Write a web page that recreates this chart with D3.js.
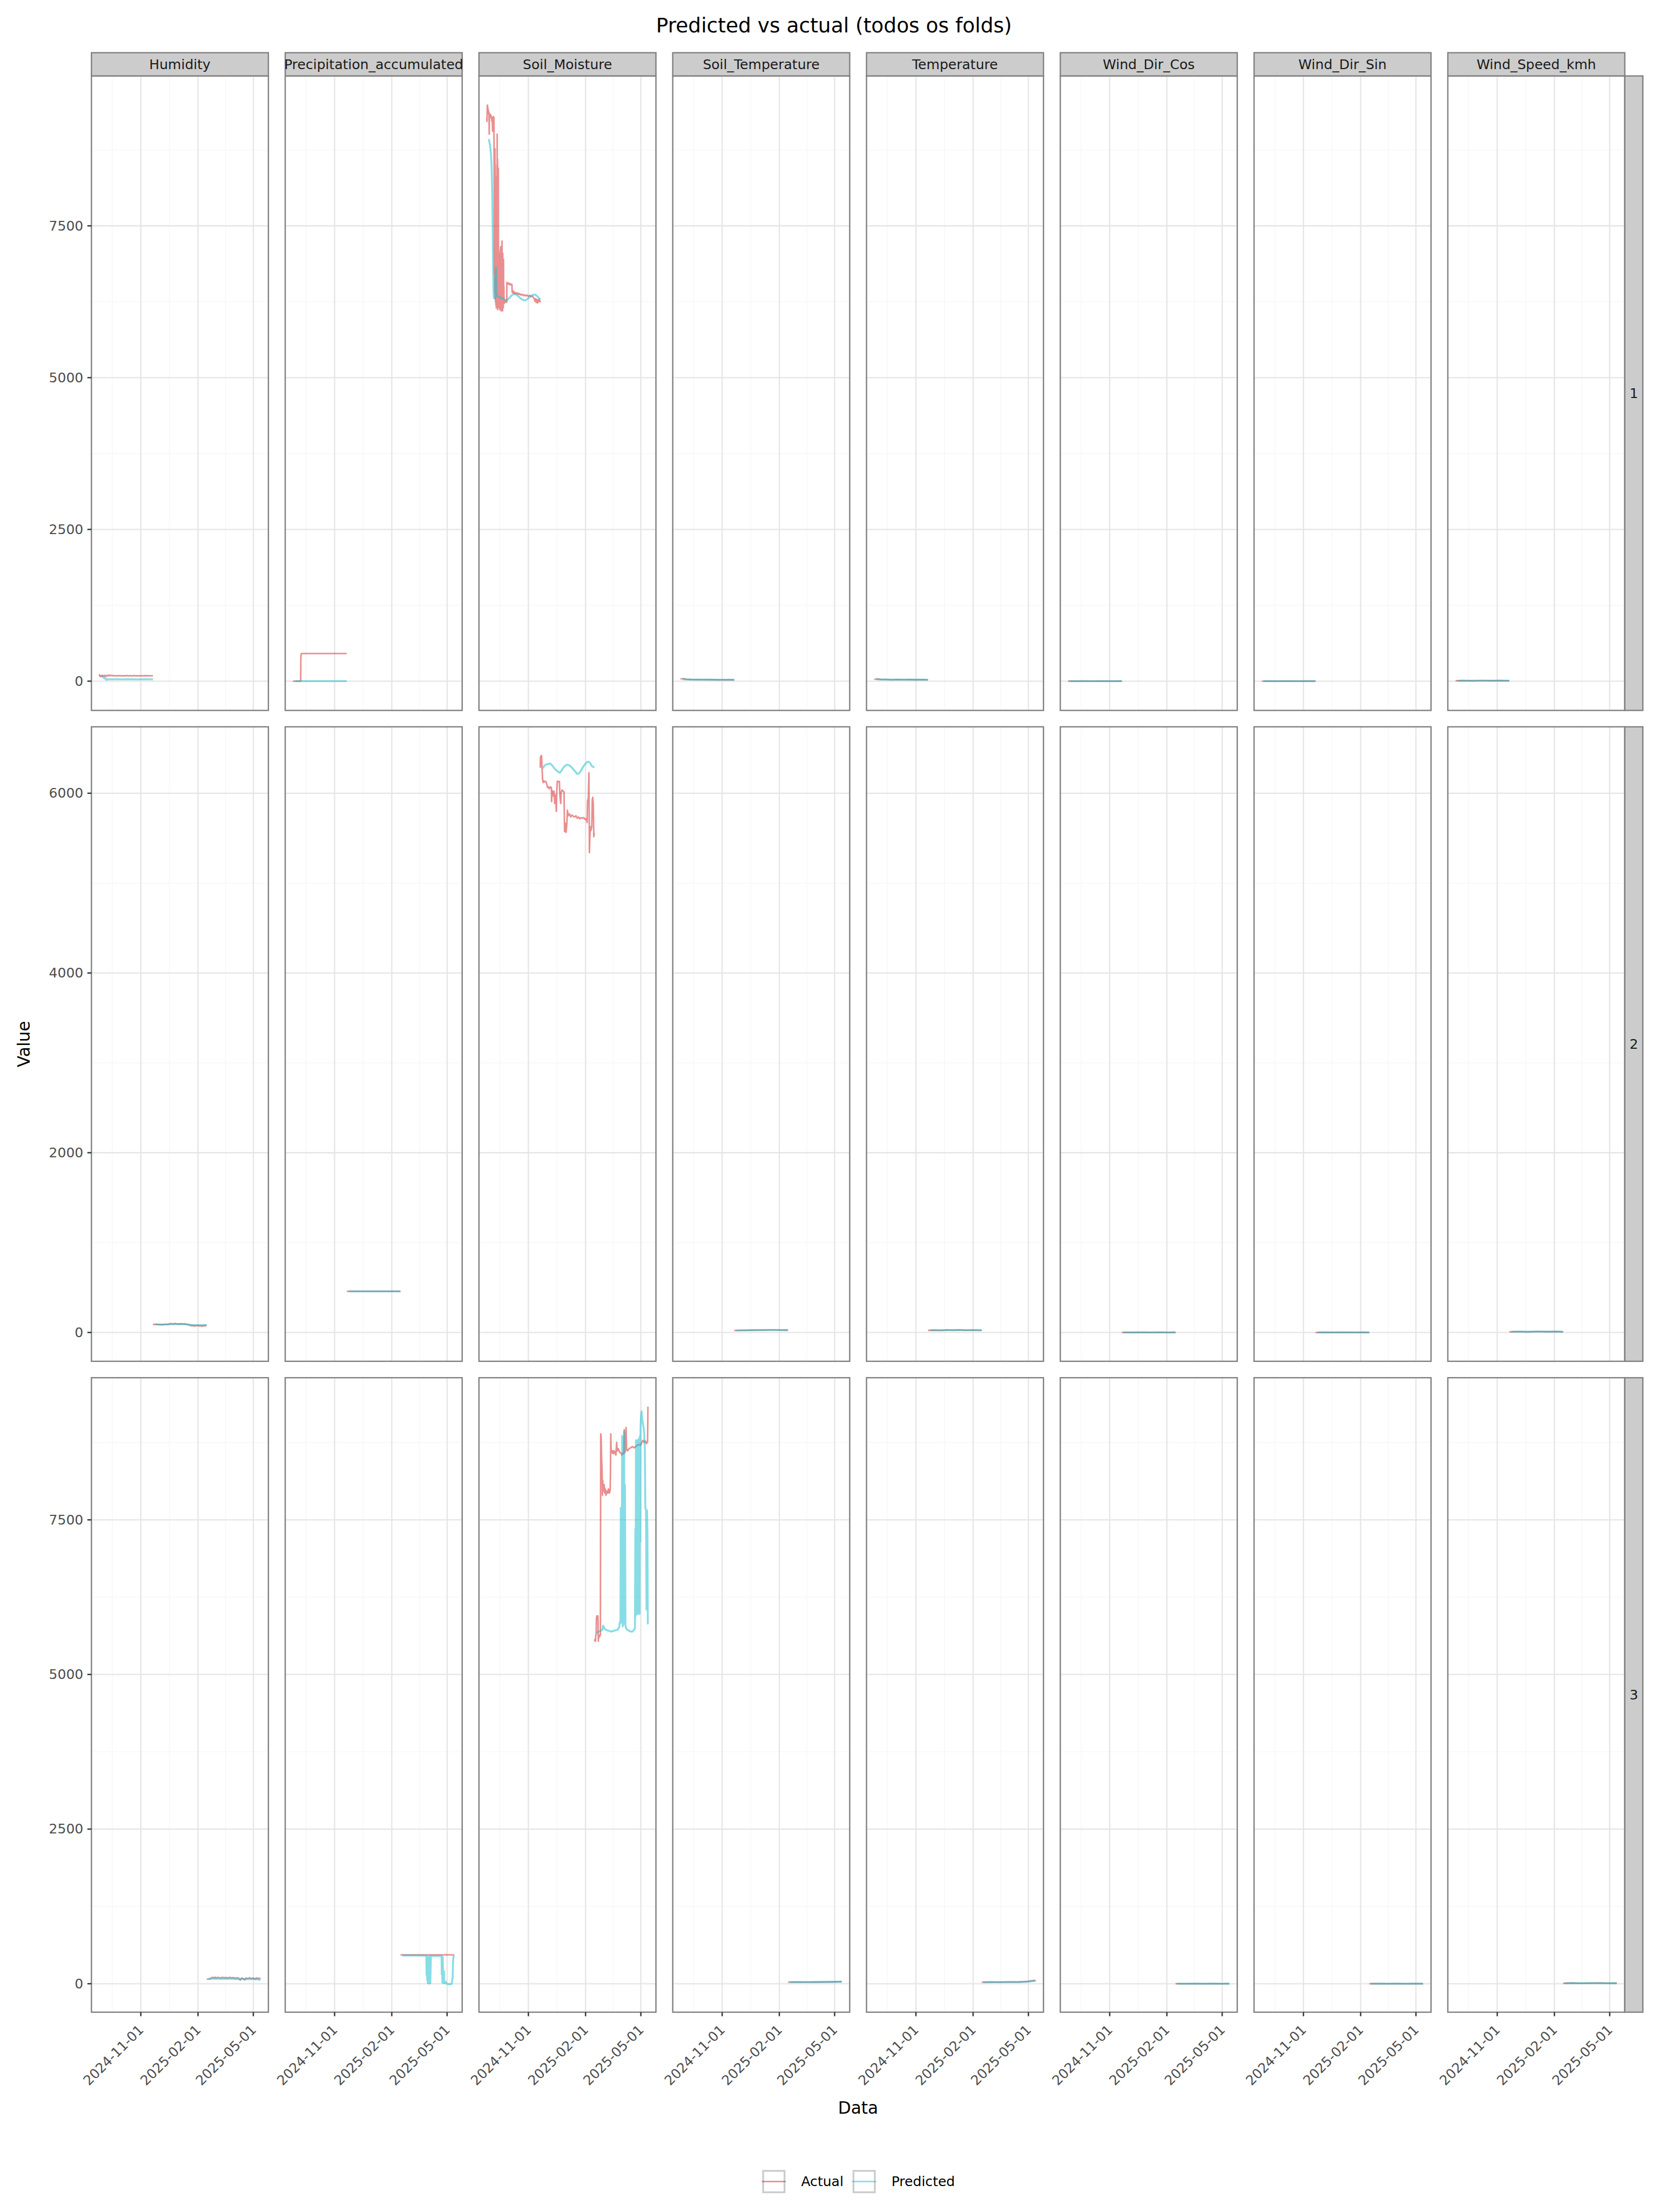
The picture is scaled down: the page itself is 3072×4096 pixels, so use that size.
<!DOCTYPE html>
<html><head><meta charset="utf-8">
<script src="https://cdn.jsdelivr.net/npm/d3@7"></script>
<style>html,body{margin:0;padding:0;background:#fff}svg{display:block}</style>
</head><body>
<script>
// ---------------- DATA ----------------
const variables = ["Humidity","Precipitation_accumulated","Soil_Moisture","Soil_Temperature","Temperature","Wind_Dir_Cos","Wind_Dir_Sin","Wind_Speed_kmh"];
const folds = ["1","2","3"];
const seriesNames = ["Actual","Predicted"];
const seriesColors = ["#d62728","#17becf"];
const xTickValues = ["2024-11-01","2025-02-01","2025-05-01"];
const xMajorAll = ["2024-08-01","2024-11-01","2025-02-01","2025-05-01","2025-08-01"];
const xDomain = ["2024-08-13T12:00:00Z","2025-05-25T06:00:00Z"];
const yDomains = [[-482,9970],[-321,6739],[-460,9798]];
const yTickValues = [[0,2500,5000,7500],[0,2000,4000,6000],[0,2500,5000,7500]];
const dayZero = "2024-08-13T00:00:00Z"; // time values below are days after this date

// Humidity
const hum_f1_act = [[13,97],[13.5,104],[14,85],[14.5,78],[15,92],[15.5,74],[16,88],[17,80],[18,95],[19,84],[20,91],[21,82],[22,96],[23,86],[24,92],[25,83],[26,94],[27,88],[28,97],[29,90],[30,99],[31,92],[32,96],[34,90],[36,93],[38,87],[40,91],[42,86],[44,92],[46,88],[48,91],[50,86],[52,90],[55,87],[58,92],[60,86],[63,90],[66,88],[69,93],[72,87],[75,90],[78,86],[81,91],[84,88],[87,92],[90,87],[93,90],[96,88],[99.5,89]];
const hum_f1_pred = [[16.5,97],[17.5,90],[18.5,78],[19.5,66],[20.5,52],[21.5,45],[22.5,60],[23.5,38],[24.5,22],[26,31],[30,30],[40,31],[50,30],[60,31],[70,30],[80,30],[90,31],[99.5,30]];
const hum_f2_act = [[99.5,92],[102,88],[105,91],[108,87],[111,90],[114,86],[117,89],[120,91],[123,88],[126,95],[129,99],[132,93],[135,101],[138,96],[141,92],[144,98],[147,94],[150,97],[153,92],[156,90],[158,80],[160,84],[162,72],[164,78],[166,70],[168,79],[170,73],[172,80],[174,71],[176,76],[178,68],[180,77],[182,72],[184,79],[186,74]];
const hum_f2_pred = [[103,90],[110,88],[120,89],[130,92],[140,93],[150,90],[156,87],[160,84],[170,82],[180,81],[186,82]];
const hum_f3_act = [[186,76],[188,74],[190,76],[192,80],[194,96],[196,104],[198,92],[200,106],[202,95],[205,103],[208,90],[211,105],[214,96],[217,102],[220,91],[223,104],[226,94],[229,100],[232,88],[235,97],[238,86],[240,60],[242,92],[245,84],[247,62],[249,90],[252,82],[255,96],[258,80],[261,92],[264,78],[266,95],[268,80],[270,90],[272.5,84]];
const hum_f3_pred = [[189,82],[192,84],[196,86],[200,80],[205,84],[210,78],[215,82],[220,80],[225,84],[230,78],[235,76],[238,74],[240,66],[243,78],[246,72],[250,76],[255,74],[260,78],[264,70],[268,74],[271,62],[272.5,70]];

// Precipitation_accumulated
const pre_f1_act = [[13,0],[20,0],[25.4,0],[25.7,380],[26,440],[26.6,455],[40,455],[60,455],[80,455],[99.5,455]];
const pre_f1_pred = [[17,0],[40,0],[60,0],[80,0],[99.5,0]];
const pre_f2_act = [[99.5,458],[120,458],[150,458],[186,458]];
const pre_f2_pred = [[103,457],[130,457],[160,457],[186,457]];
const pre_f3_act = [[186,467],[210,467],[240,467],[272.5,467]];
const pre_f3_pred = [[189,458],[200,457],[215,456],[227.6,455],[228,140],[228.5,450],[229,60],[229.5,200],[230,10],[231,440],[231.5,5],[232.5,8],[233,450],[234,5],[235,455],[236,452],[245,450],[252,450],[252.5,150],[253,440],[253.5,15],[254,430],[254.5,120],[255,10],[256,200],[256.5,12],[258,10],[259,30],[260,5],[262,-5],[265,-8],[268,-5],[269,30],[269.5,80],[270,90],[270.5,350],[271,420],[272.2,458]];

// Soil_Moisture
const sm_f1_act = [[13,9280],[13.4,9220],[13.8,9470],[14.2,9490],[14.6,9410],[15,9440],[15.4,9380],[15.8,9400],[16.2,9340],[16.6,9370],[17,9010],[17.4,9350],[17.8,9320],[18.2,9340],[18.8,9300],[19.4,9330],[20,9280],[20.6,9300],[21.2,9230],[21.8,9290],[22.4,9060],[22.8,9290],[23.4,9250],[24,9300],[24.6,9270],[25,7900],[25.3,6700],[25.6,8700],[25.9,6400],[26.2,8770],[26.5,6300],[26.8,8500],[27.1,6250],[27.4,8300],[27.7,6200],[28,7400],[28.3,6150],[28.6,8000],[28.9,6300],[29.2,7800],[29.5,6200],[29.8,9010],[30.1,6150],[30.4,8600],[30.7,6120],[31,7300],[31.3,6250],[31.6,8450],[31.9,6200],[32.2,7100],[32.5,6300],[32.8,7000],[33.1,6150],[33.4,6900],[33.7,6200],[34,7050],[34.3,6120],[34.6,6800],[34.9,6300],[35.2,7150],[35.5,6200],[35.8,7000],[36.1,6100],[36.4,7160],[36.7,6250],[37,6900],[37.3,6130],[37.6,7250],[37.9,6200],[38.2,6700],[38.5,6100],[38.8,7050],[39.1,6250],[39.4,6600],[39.7,6150],[40,6950],[40.3,6280],[40.6,6500],[41,6220],[41.5,6260],[42.5,6240],[43.5,6270],[44.5,6250],[45.2,6240],[45.4,6570],[46,6550],[47,6560],[48,6540],[49,6555],[50,6530],[51,6545],[52,6530],[53,6540],[53.6,6530],[53.8,6420],[54.5,6400],[55.5,6430],[56.5,6390],[57.5,6410],[58.5,6380],[60,6400],[61.5,6375],[63,6395],[64.5,6370],[66,6385],[68,6360],[70,6375],[72,6350],[74,6365],[76,6345],[78,6360],[80,6340],[82,6355],[84,6335],[86,6345],[88,6320],[89.5,6300],[90.5,6260],[91.5,6300],[92.5,6240],[93.5,6290],[94.5,6230],[95.5,6280],[96.5,6250],[97.5,6290],[98.5,6250],[99.5,6270]];
const sm_f1_pred = [[16.3,8930],[16.8,8900],[17.5,8870],[18.3,8820],[19,8760],[19.8,8680],[20.5,8560],[21,8400],[21.5,8200],[22,7900],[22.5,7500],[23,7100],[23.4,6800],[23.8,6500],[24.2,6350],[24.6,6310],[25,6650],[25.3,6330],[25.7,6560],[26,6320],[26.4,6400],[26.8,6300],[27.2,6450],[27.6,6700],[28,6810],[28.4,6600],[28.8,6400],[29.2,6360],[30,6340],[33,6330],[36,6315],[39,6300],[42,6285],[44,6275],[47,6290],[50,6320],[53,6355],[56,6375],[58,6378],[61,6365],[64,6340],[67,6310],[70,6288],[73,6275],[75,6273],[78,6290],[81,6320],[84,6345],[87,6362],[90,6368],[92,6360],[94,6345],[96,6320],[98,6300],[99.5,6290]];
const sm_f2_act = [[99.1,6283],[99.5,6406],[101.2,6420],[102,6283],[102.8,6160],[103.7,6119],[104.5,6139],[106.2,6126],[107.8,6133],[109.5,6105],[110.8,6064],[112,6071],[113.7,6050],[115.3,6071],[117,6064],[117.4,5907],[118.3,6030],[119.5,6010],[120.3,5968],[121.2,6023],[122.4,5886],[123.7,5982],[124.9,5798],[125.8,6037],[126.6,6133],[128.7,6126],[129.9,6133],[130.7,5982],[132,5886],[132.8,6010],[134.1,6037],[135.7,6023],[137.4,6016],[138.2,5572],[139.5,5668],[140.7,5565],[142,5668],[142.8,5811],[144,5750],[146.1,5770],[148.2,5736],[150.3,5757],[152.4,5743],[154.5,5736],[156.5,5750],[158.6,5722],[160.7,5736],[162.8,5716],[164.9,5729],[167,5722],[169,5729],[171.1,5709],[173.2,5716],[174.5,5674],[175.3,5921],[176.5,5941],[177.4,6228],[178.2,5339],[179,5517],[179.9,5627],[180.7,5586],[182,5627],[182.8,5927],[183.6,5955],[184.4,5886],[185.3,5517],[186.1,5558]];
const sm_f2_pred = [[103.7,6276],[104.5,6290],[105.5,6305],[106.6,6312],[108,6318],[110,6320],[112,6327],[114,6331],[115.5,6328],[117,6320],[119,6303],[121,6285],[123,6269],[125,6255],[127.4,6242],[129,6233],[130.7,6228],[132,6240],[133.7,6256],[135.5,6278],[137.8,6297],[140,6310],[142,6317],[144,6315],[146,6310],[148,6297],[150.3,6283],[152.5,6265],[154.5,6249],[156.5,6232],[158.6,6215],[160.5,6218],[162,6225],[163.5,6240],[165,6256],[167,6280],[169,6303],[171,6320],[173.2,6338],[175,6347],[176.1,6351],[178,6345],[179.5,6338],[181,6315],[182.5,6300],[184,6297],[185.7,6283]];
const sm_f3_act = [[186.4,5537],[187.2,5571],[188,5537],[188.5,5640],[189,5640],[189.5,5913],[190.3,5947],[191.1,5913],[191.9,5947],[192.5,5537],[193.3,5640],[194.3,5605],[195.4,5640],[195.9,5640],[196.4,8890],[197,8856],[197.8,8514],[198.6,8308],[199.1,7898],[199.6,8137],[200.4,8034],[201.2,7966],[202,8069],[202.8,7932],[203.8,8000],[204.9,7898],[206.2,7966],[207.6,7932],[208.9,8000],[210.2,7932],[211.5,7966],[212.1,8240],[212.6,8890],[213.1,8650],[214.2,8582],[215.5,8616],[216.8,8568],[218.1,8616],[219.5,8582],[220.8,8548],[222.1,8753],[222.9,8616],[224.8,8650],[226.6,8596],[228.7,8582],[230.6,8548],[232.2,8582],[233.5,8568],[234.3,8958],[235.1,8582],[236.2,8616],[237.2,8993],[238,8650],[239.3,8616],[242,8650],[244.6,8664],[247.3,8685],[249.9,8664],[252.6,8685],[255.2,8705],[257.9,8719],[260.5,8705],[262.6,8753],[264.5,8787],[266.3,8753],[268.5,8774],[270.1,8733],[271.1,8753],[271.8,8760],[272.4,9330]];
const sm_f3_pred = [[189.5,5674],[193,5694],[197,5708],[199.1,5721],[200.1,5790],[201.2,5776],[202.3,5742],[204.9,5721],[208.9,5708],[212.9,5694],[218.1,5708],[223.4,5721],[226.1,5763],[227.2,5845],[228.2,5831],[228.7,7692],[229.3,5913],[230.1,5845],[230.9,8856],[231.4,5913],[231.9,5776],[232.4,7624],[233,5810],[234,8924],[234.6,5845],[235.4,8069],[236.2,5790],[237.5,5742],[239.3,5721],[242,5708],[244.6,5694],[247.3,5694],[249.9,5721],[251.5,5742],[252.1,7350],[252.6,5947],[253.1,8787],[253.6,5968],[254.2,8753],[254.7,5982],[255.2,8787],[255.7,5982],[256.3,8753],[256.8,5982],[257.3,8801],[257.9,5995],[258.4,8821],[258.9,5982],[259.5,8856],[260,7145],[260.5,8993],[261.3,9198],[262.1,9253],[263.2,9129],[264.2,9061],[265.3,8993],[266.3,8924],[267.4,8650],[268.2,7692],[269.3,7658],[270.1,6050],[270.9,7658],[271.6,7282],[272.2,5810]];

// Soil_Temperature
const st_f1_act = [[13,35],[18,42],[23,30],[30,27],[40,25],[50,24],[60,26],[70,23],[80,22],[90,24],[99.5,21]];
const st_f1_pred = [[16.5,33],[22,29],[30,26],[45,25],[60,24],[75,23],[90,23],[99.5,22]];
const st_f2_act = [[99.5,22],[115,24],[130,26],[145,27],[160,28],[175,27],[186,26]];
const st_f2_pred = [[103,23],[120,25],[140,26],[160,27],[186,26]];
const st_f3_act = [[186,26],[200,27],[215,26],[230,27],[245,29],[260,31],[272.5,34]];
const st_f3_pred = [[189,26],[205,26],[220,27],[240,28],[260,30],[272.5,32]];

// Temperature
const te_f1_act = [[13,30],[18,38],[24,26],[32,28],[40,22],[50,27],[60,24],[70,29],[80,23],[90,26],[99.5,22]];
const te_f1_pred = [[16.5,29],[25,27],[40,25],[55,25],[70,24],[85,24],[99.5,23]];
const te_f2_act = [[99.5,23],[110,26],[120,22],[130,28],[140,25],[150,29],[160,24],[170,27],[186,25]];
const te_f2_pred = [[103,24],[120,25],[140,26],[160,26],[186,25]];
const te_f3_act = [[186,25],[200,28],[215,24],[230,30],[245,27],[260,38],[272.5,55]];
const te_f3_pred = [[189,25],[205,26],[225,27],[245,29],[260,34],[272.5,48]];

// Wind_Dir_Cos
const wc_f1_act = [[13,0.5],[25,-0.6],[40,0.8],[55,-0.3],[70,0.6],[85,-0.7],[99.5,0.2]];
const wc_f1_pred = [[16.5,0.1],[40,0.2],[70,0.1],[99.5,0.0]];
const wc_f2_act = [[99.5,0.3],[115,-0.5],[130,0.7],[145,-0.4],[160,0.6],[175,-0.2],[186,0.4]];
const wc_f2_pred = [[103,0.1],[130,0.2],[160,0.1],[186,0.1]];
const wc_f3_act = [[186,0.4],[200,-0.6],[215,0.5],[230,-0.3],[245,0.7],[260,-0.5],[272.5,0.2]];
const wc_f3_pred = [[189,0.1],[215,0.0],[245,0.1],[272.5,0.0]];

// Wind_Dir_Sin
const ws_f1_act = [[13,-0.4],[25,0.6],[40,-0.7],[55,0.5],[70,-0.3],[85,0.8],[99.5,-0.2]];
const ws_f1_pred = [[16.5,0.0],[40,-0.1],[70,0.1],[99.5,0.0]];
const ws_f2_act = [[99.5,-0.2],[115,0.6],[130,-0.5],[145,0.4],[160,-0.6],[175,0.3],[186,-0.1]];
const ws_f2_pred = [[103,0.0],[130,0.1],[160,-0.1],[186,0.0]];
const ws_f3_act = [[186,-0.1],[200,0.5],[215,-0.6],[230,0.4],[245,-0.4],[260,0.6],[272.5,-0.3]];
const ws_f3_pred = [[189,0.0],[215,0.1],[245,-0.1],[272.5,0.0]];

// Wind_Speed_kmh
const wk_f1_act = [[13,6],[25,9],[40,5],[55,11],[70,7],[85,10],[99.5,6]];
const wk_f1_pred = [[16.5,7],[50,8],[99.5,7]];
const wk_f2_act = [[99.5,7],[115,10],[130,6],[145,12],[160,8],[175,11],[186,7]];
const wk_f2_pred = [[103,8],[145,9],[186,8]];
const wk_f3_act = [[186,7],[200,11],[215,6],[230,9],[245,12],[260,7],[272.5,9]];
const wk_f3_pred = [[189,8],[230,9],[272.5,8]];

const seriesTable = {
  "Humidity": [[hum_f1_act,hum_f1_pred],[hum_f2_act,hum_f2_pred],[hum_f3_act,hum_f3_pred]],
  "Precipitation_accumulated": [[pre_f1_act,pre_f1_pred],[pre_f2_act,pre_f2_pred],[pre_f3_act,pre_f3_pred]],
  "Soil_Moisture": [[sm_f1_act,sm_f1_pred],[sm_f2_act,sm_f2_pred],[sm_f3_act,sm_f3_pred]],
  "Soil_Temperature": [[st_f1_act,st_f1_pred],[st_f2_act,st_f2_pred],[st_f3_act,st_f3_pred]],
  "Temperature": [[te_f1_act,te_f1_pred],[te_f2_act,te_f2_pred],[te_f3_act,te_f3_pred]],
  "Wind_Dir_Cos": [[wc_f1_act,wc_f1_pred],[wc_f2_act,wc_f2_pred],[wc_f3_act,wc_f3_pred]],
  "Wind_Dir_Sin": [[ws_f1_act,ws_f1_pred],[ws_f2_act,ws_f2_pred],[ws_f3_act,ws_f3_pred]],
  "Wind_Speed_kmh": [[wk_f1_act,wk_f1_pred],[wk_f2_act,wk_f2_pred],[wk_f3_act,wk_f3_pred]]
};

const titleText = "Predicted vs actual (todos os folds)";
const xTitle = "Data", yTitle = "Value";

// ---------------- LAYOUT (reference pixel units, 4500x6000 viewBox) ----------------
const L = {
  W:4500, H:6000,
  panelLeft:248, panelW:480, colPitch:525.6,
  panelTop:206, panelH:1721, rowPitch:1765.5,
  stripTop:143, stripH:63, rowStripW:49,
  border:3.5, font:"'DejaVu Sans', Verdana, sans-serif",
  tickLen:11, axisText:36.7, stripText:36.7, titleSize:55, axisTitle:45.8
};
const lineWidths = [4.2, 5.2];
const lineOpacity = 0.52;

const svg = d3.select("body").append("svg")
  .attr("width",3072).attr("height",4096)
  .attr("viewBox",`0 0 ${L.W} ${L.H}`)
  .style("font-family",L.font);
svg.append("rect").attr("width",L.W).attr("height",L.H).attr("fill","#ffffff");

const t0 = Date.parse(dayZero);
const toDate = d => new Date(t0 + d*864e5);
const x = d3.scaleUtc().domain(xDomain.map(s=>new Date(s))).range([0,L.panelW]);
const xMajor = xTickValues.map(s=>new Date(s+"T00:00:00Z"));
const xMajorExt = xMajorAll.map(s=>new Date(s+"T00:00:00Z"));
const [xd0,xd1] = x.domain();
const xMinor = d3.pairs(xMajorExt).map(([a,b])=>new Date((+a + +b)/2)).filter(d=>d>=xd0 && d<=xd1);
const fmtTick = d3.utcFormat("%Y-%m-%d");

const nCols = variables.length, nRows = folds.length;
const panelsRight = L.panelLeft + (nCols-1)*L.colPitch + L.panelW;
const panelsBottom = L.panelTop + (nRows-1)*L.rowPitch + L.panelH;

const defs = svg.append("defs");

folds.forEach((fold,r)=>{
  const y = d3.scaleLinear().domain(yDomains[r]).range([L.panelH,0]);
  const step = yTickValues[r][1]-yTickValues[r][0];
  const ext = [yTickValues[r][0]-step, ...yTickValues[r], yTickValues[r][yTickValues[r].length-1]+step];
  const yMinor = d3.pairs(ext).map(([a,b])=>(a+b)/2).filter(v=>v>=yDomains[r][0] && v<=yDomains[r][1]);

  variables.forEach((v,c)=>{
    const px = L.panelLeft + c*L.colPitch, py = L.panelTop + r*L.rowPitch;
    const g = svg.append("g").attr("transform",`translate(${px},${py})`);
    g.append("rect").attr("width",L.panelW).attr("height",L.panelH).attr("fill","#ffffff");
    // minor grid
    g.selectAll(".mnx").data(xMinor).join("line")
      .attr("x1",d=>x(d)).attr("x2",d=>x(d)).attr("y1",0).attr("y2",L.panelH)
      .attr("stroke","#f5f5f5").attr("stroke-width",1.8);
    g.selectAll(".mny").data(yMinor).join("line")
      .attr("y1",d=>y(d)).attr("y2",d=>y(d)).attr("x1",0).attr("x2",L.panelW)
      .attr("stroke","#f5f5f5").attr("stroke-width",1.8);
    // major grid
    g.selectAll(".mjx").data(xMajor).join("line")
      .attr("x1",d=>x(d)).attr("x2",d=>x(d)).attr("y1",0).attr("y2",L.panelH)
      .attr("stroke","#e5e5e5").attr("stroke-width",3.4);
    g.selectAll(".mjy").data(yTickValues[r]).join("line")
      .attr("y1",d=>y(d)).attr("y2",d=>y(d)).attr("x1",0).attr("x2",L.panelW)
      .attr("stroke","#e5e5e5").attr("stroke-width",3.4);
    // clip
    const cid = `clip-${r}-${c}`;
    defs.append("clipPath").attr("id",cid).append("rect")
      .attr("x",px).attr("y",py).attr("width",L.panelW).attr("height",L.panelH);
    const lg = svg.append("g").attr("clip-path",`url(#${cid})`)
      .append("g").attr("transform",`translate(${px},${py})`);
    const line = d3.line().x(p=>x(toDate(p[0]))).y(p=>y(p[1]));
    seriesTable[v][r].forEach((arr,s)=>{
      lg.append("path").attr("d",line(arr)).attr("fill","none")
        .attr("stroke",seriesColors[s]).attr("stroke-opacity",lineOpacity)
        .attr("stroke-width",lineWidths[s]).attr("stroke-linejoin","round");
    });
    // border
    g.append("rect").attr("width",L.panelW).attr("height",L.panelH)
      .attr("fill","none").attr("stroke","#7f7f7f").attr("stroke-width",L.border);

    // top strip
    if(r===0){
      svg.append("rect").attr("x",px).attr("y",L.stripTop).attr("width",L.panelW).attr("height",L.stripH)
        .attr("fill","#cccccc").attr("stroke","#7f7f7f").attr("stroke-width",L.border);
      svg.append("text").attr("x",px+L.panelW/2).attr("y",L.stripTop+L.stripH/2)
        .attr("text-anchor","middle").attr("dominant-baseline","central")
        .attr("font-size",L.stripText).attr("fill","#1a1a1a").text(v);
    }
    // right strip
    if(c===nCols-1){
      svg.append("rect").attr("x",px+L.panelW).attr("y",py).attr("width",L.rowStripW).attr("height",L.panelH)
        .attr("fill","#cccccc").attr("stroke","#7f7f7f").attr("stroke-width",L.border);
      const cx = px+L.panelW+L.rowStripW/2, cy = py+L.panelH/2;
      svg.append("text").attr("x",cx).attr("y",cy)
        .attr("text-anchor","middle").attr("dominant-baseline","central")
        .attr("font-size",L.stripText).attr("fill","#1a1a1a").text(fold);
    }
    // y axis
    if(c===0){
      const ya = svg.append("g").attr("transform",`translate(${px},${py})`);
      ya.selectAll("line").data(yTickValues[r]).join("line")
        .attr("x1",-L.tickLen).attr("x2",0).attr("y1",d=>y(d)).attr("y2",d=>y(d))
        .attr("stroke","#333333").attr("stroke-width",3.6);
      ya.selectAll("text").data(yTickValues[r]).join("text")
        .attr("x",-22).attr("y",d=>y(d)).attr("text-anchor","end").attr("dominant-baseline","central")
        .attr("font-size",L.axisText).attr("fill","#4d4d4d").text(d=>String(d));
    }
    // x axis
    if(r===nRows-1){
      const xa = svg.append("g").attr("transform",`translate(${px},${py+L.panelH})`);
      xa.selectAll("line").data(xMajor).join("line")
        .attr("x1",d=>x(d)).attr("x2",d=>x(d)).attr("y1",0).attr("y2",L.tickLen)
        .attr("stroke","#333333").attr("stroke-width",3.6);
      xa.selectAll("text").data(xMajor).join("text")
        .attr("transform",d=>`translate(${x(d)+10},${50}) rotate(-45)`)
        .attr("text-anchor","end")
        .attr("font-size",L.axisText).attr("fill","#4d4d4d").text(d=>fmtTick(d));
    }
  });
});

// Titles
const panelsCenterX = (L.panelLeft + panelsRight)/2;
svg.append("text").attr("x",2262).attr("y",69).attr("text-anchor","middle").attr("dominant-baseline","central")
  .attr("font-size",L.titleSize).attr("fill","#000").text(titleText);
svg.append("text").attr("x",panelsCenterX).attr("y",5718).attr("text-anchor","middle").attr("dominant-baseline","central")
  .attr("font-size",L.axisTitle).attr("fill","#000").text(xTitle);
svg.append("text").attr("transform",`translate(65,${(L.panelTop+panelsBottom)/2}) rotate(-90)`)
  .attr("text-anchor","middle").attr("dominant-baseline","central")
  .attr("font-size",L.axisTitle).attr("fill","#000").text(yTitle);

// Legend
const legendKeyCx = [2099, 2344], legendCy = 5917.5, keySize = 63;
seriesNames.forEach((nm,i)=>{
  const g = svg.append("g");
  g.append("rect").attr("x",legendKeyCx[i]-keySize/2+2.5).attr("y",legendCy-keySize/2+2.5)
    .attr("width",keySize-5).attr("height",keySize-5)
    .attr("fill","#ffffff").attr("stroke","#cccccc").attr("stroke-width",5);
  g.append("line").attr("x1",legendKeyCx[i]-keySize/2-1).attr("x2",legendKeyCx[i]+keySize/2+1)
    .attr("y1",legendCy).attr("y2",legendCy)
    .attr("stroke",seriesColors[i]).attr("stroke-opacity",lineOpacity).attr("stroke-width",4);
  g.append("text").attr("x",legendKeyCx[i]+74).attr("y",legendCy).attr("dominant-baseline","central")
    .attr("font-size",L.axisText).attr("fill","#000").text(nm);
});
</script>
</body></html>
